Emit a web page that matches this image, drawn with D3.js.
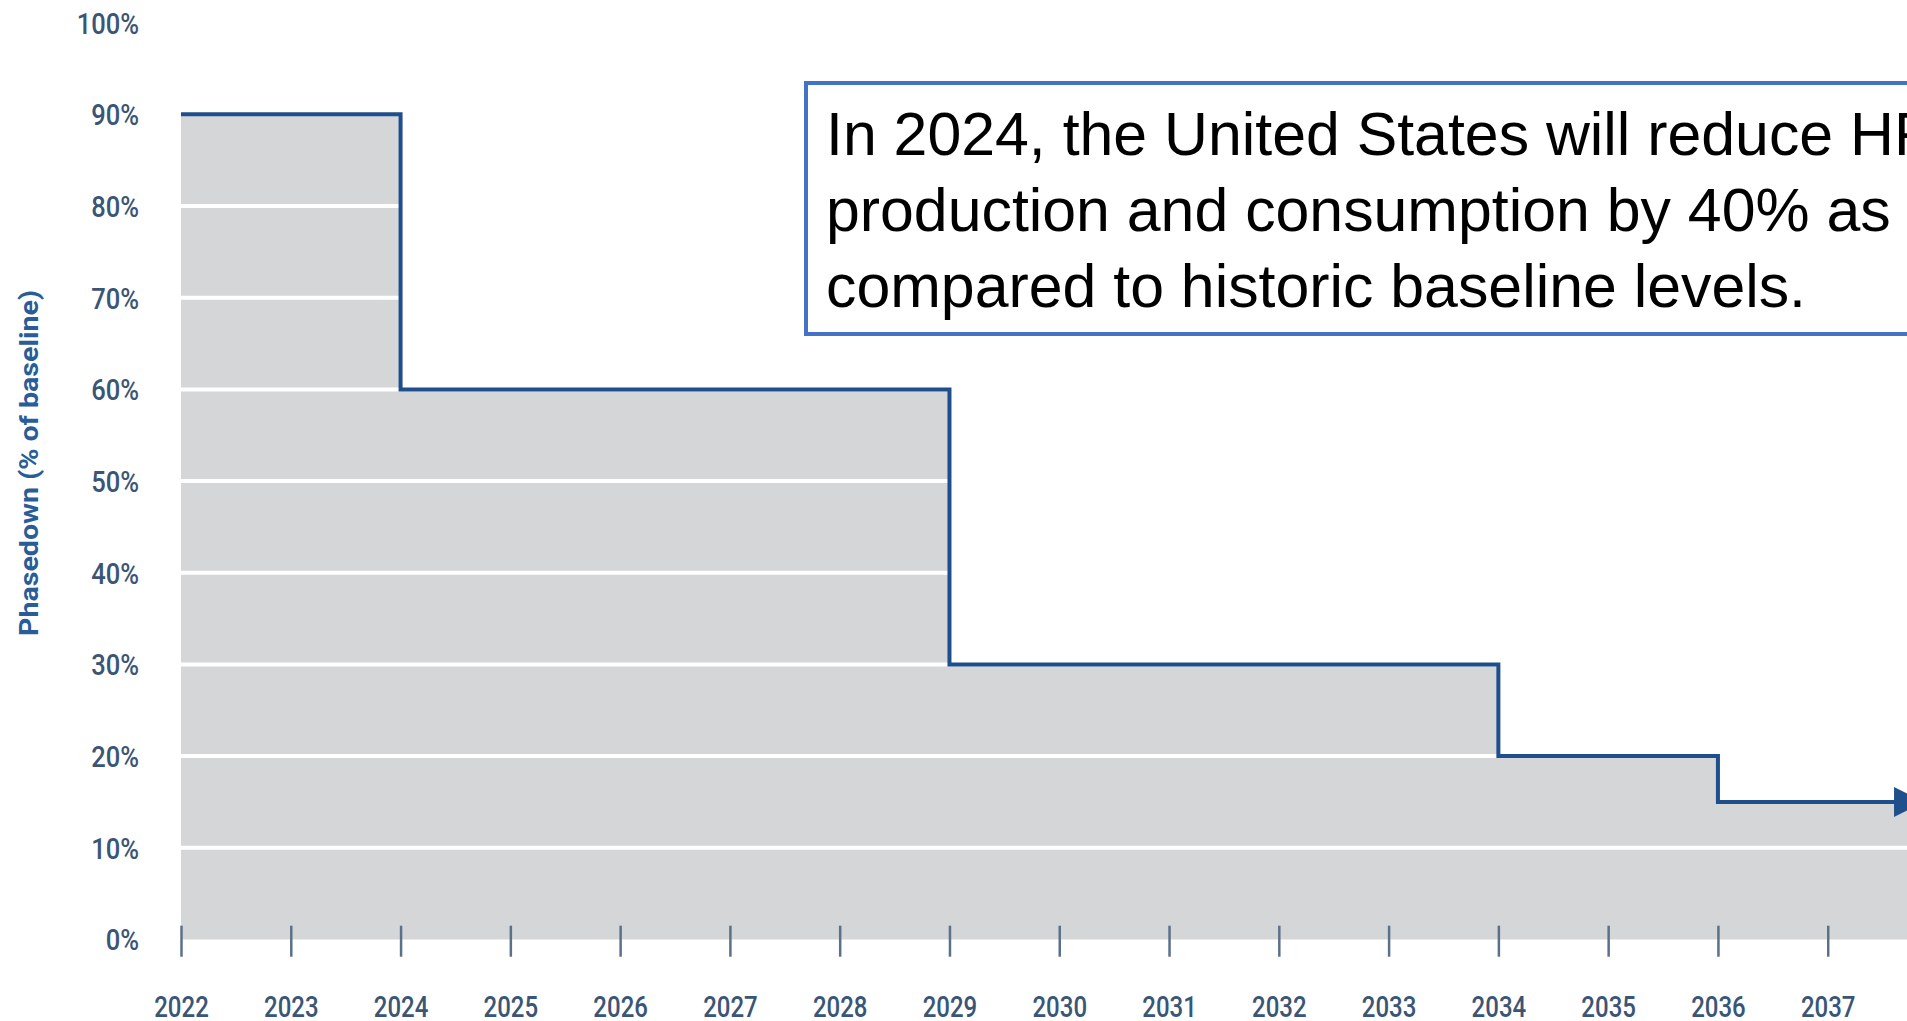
<!DOCTYPE html>
<html><head><meta charset="utf-8">
<script src="https://cdn.jsdelivr.net/npm/d3@7"></script>
<style>html,body{margin:0;padding:0;background:#fff;overflow:hidden}</style>
</head><body>
<svg id="c" width="1907" height="1021"></svg>
<script>
// Data
const stepYears = [2022, 2024, 2029, 2034, 2036];
const stepValues = [90, 60, 30, 20, 15];
const endYear = 2037.85;
const yearTicks = [2022,2023,2024,2025,2026,2027,2028,2029,2030,2031,2032,2033,2034,2035,2036,2037];
const pctTicks = [0,10,20,30,40,50,60,70,80,90,100];
const gridValues = [10,20,30,40,50,60,70,80];
const yTitle = "Phasedown (% of baseline)";
const noteLines = ["In 2024, the United States will reduce HFC",
                   "production and consumption by 40% as",
                   "compared to historic baseline levels."];

const svg = d3.select("#c");
const x = d3.scaleLinear().domain([2022, 2038]).range([181, 1937.5]);
const y = d3.scaleLinear().domain([0, 100]).range([939.4, 22.7]);

// build step points
const pts = [];
stepYears.forEach((yr, i) => {
  const next = i < stepYears.length - 1 ? stepYears[i+1] : endYear;
  pts.push([yr, stepValues[i]]);
  pts.push([next, stepValues[i]]);
});

// area
const area = d3.area().x(d => x(d[0])).y0(y(0)).y1(d => y(d[1]));
const areaPts = pts.slice(0, -1).concat([[2040, stepValues[stepValues.length-1]]]);
svg.append("path").datum(areaPts).attr("d", area).attr("fill", "#d5d6d8");

// gridlines
svg.append("g").selectAll("line").data(gridValues).join("line")
  .attr("x1", x(2022)).attr("x2", 1907)
  .attr("y1", d => y(d)).attr("y2", d => y(d))
  .attr("stroke", "#fff").attr("stroke-width", 4);

// step line with arrow
const defs = svg.append("defs");
defs.append("marker").attr("id", "arr").attr("viewBox", "0 0 10 10")
  .attr("refX", 9).attr("refY", 5).attr("markerWidth", 7.5).attr("markerHeight", 8.5)
  .attr("markerUnits", "strokeWidth").attr("orient", "auto")
  .append("path").attr("d", "M0,0 L10,5 L0,10 Z").attr("fill", "#1f4e8c");
const line = d3.line().x(d => x(d[0])).y(d => y(d[1]));
svg.append("path").datum(pts).attr("d", line).attr("fill", "none")
  .attr("stroke", "#1f4e8c").attr("stroke-width", 4).attr("stroke-linejoin", "miter")
  .attr("marker-end", "url(#arr)");

// x axis
const gx = svg.append("g").attr("transform", `translate(0,925.7)`)
  .call(d3.axisBottom(x).tickValues(yearTicks).tickFormat(d3.format("d")).tickSize(31).tickPadding(39));
gx.select(".domain").remove();
gx.selectAll(".tick line").attr("stroke", "#5b7089").attr("stroke-width", 2.5);
gx.selectAll(".tick text").attr("fill", "#3a5575").style("font-family", "Roboto, 'DejaVu Sans', sans-serif")
  .style("font-size", "30px").style("font-weight", 500);

// y axis
const gy = svg.append("g").attr("transform", `translate(${x(2022)},0)`)
  .call(d3.axisLeft(y).tickValues(pctTicks).tickFormat(d => d + "%").tickSize(0).tickPadding(42));
gy.select(".domain").remove();
gy.selectAll(".tick text").attr("fill", "#3a5575").style("font-family", "Roboto, 'DejaVu Sans', sans-serif")
  .style("font-size", "29px").style("font-weight", 500).attr("dy", "0.36em");

// condense labels
function condense(sel, f) {
  sel.each(function() {
    const L = this.getComputedTextLength();
    d3.select(this).attr("textLength", L * f).attr("lengthAdjust", "spacingAndGlyphs");
  });
}
condense(gx.selectAll(".tick text"), 0.8);
condense(gy.selectAll(".tick text"), 0.88);

// y title
const t = svg.append("text").attr("transform", "translate(38,463) rotate(-90)")
  .attr("text-anchor", "middle").attr("fill", "#2a5c98")
  .style("font-family", "Roboto, 'DejaVu Sans', sans-serif").style("font-weight", "bold")
  .style("font-size", "25px").text(yTitle);
t.attr("textLength", 346).attr("lengthAdjust", "spacingAndGlyphs");

// annotation box
svg.append("rect").attr("x", 806).attr("y", 83).attr("width", 1200).attr("height", 251)
  .attr("fill", "#fff").attr("stroke", "#4472c4").attr("stroke-width", 4);
svg.append("g").selectAll("text").data(noteLines).join("text")
  .attr("x", 826).attr("y", (d, i) => 155 + i * 76)
  .attr("fill", "#000").style("font-family", "'Liberation Sans', Arial, sans-serif")
  .style("font-size", "60.8px").text(d => d);
</script>
</body></html>
